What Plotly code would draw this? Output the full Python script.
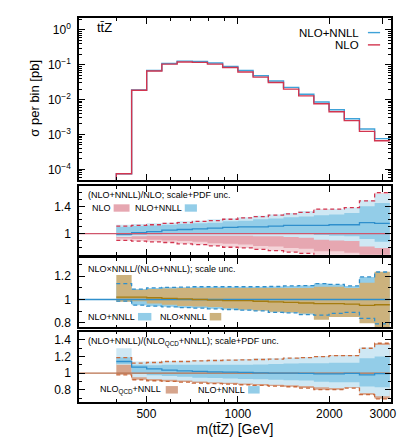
import plotly.graph_objects as go
from plotly.subplots import make_subplots

# bin edges of m(ttZ) in GeV (log-spaced bins), the first empty bin starts at 300
edges = [398, 447, 501, 562, 631, 708, 794, 891, 1000, 1122, 1259, 1413, 1585,
         1778, 1995, 2239, 2512, 2818, 3162]
x_start = 300
empty_bin = 1e-9  # no events below 400 GeV

# main panel: sigma per bin [pb]
sigma_nlo = [7.5e-5, 1.85e-2, 6.6e-2, 0.104, 0.120, 0.117, 0.104, 0.083, 0.062,
             0.044, 0.031, 0.020, 0.0128, 0.0076, 0.0045, 0.0025, 0.00123, 0.00066]
sigma_nnll = [7.4e-5, 1.88e-2, 6.8e-2, 0.109, 0.127, 0.125, 0.112, 0.090, 0.068,
              0.0485, 0.0343, 0.0224, 0.0143, 0.0085, 0.0051, 0.00283, 0.00143, 0.00076]

# panel 2: (NLO+NNLL)/NLO, scale+PDF
p2_nlo_c = [1.0] * 18
p2_nlo_out_lo = [0.90, 0.89, 0.88, 0.87, 0.85, 0.84, 0.82, 0.80, 0.79, 0.77, 0.75, 0.73, 0.71, 0.66, 0.66, 0.64, 0.55, 0.45]
p2_nlo_out_hi = [1.11, 1.12, 1.13, 1.15, 1.16, 1.18, 1.19, 1.21, 1.23, 1.25, 1.27, 1.29, 1.31, 1.36, 1.36, 1.38, 1.48, 1.60]
p2_nlo_in_lo = [0.93, 0.92, 0.91, 0.90, 0.89, 0.88, 0.86, 0.85, 0.84, 0.82, 0.81, 0.79, 0.78, 0.74, 0.74, 0.72, 0.65, 0.58]
p2_nlo_in_hi = [1.08, 1.09, 1.10, 1.11, 1.12, 1.13, 1.14, 1.16, 1.17, 1.19, 1.20, 1.22, 1.24, 1.27, 1.27, 1.29, 1.37, 1.45]
p2_nnll_c = [0.99, 1.015, 1.03, 1.05, 1.06, 1.07, 1.08, 1.09, 1.10, 1.10, 1.11, 1.12, 1.12, 1.12, 1.13, 1.13, 1.16, 1.15]
p2_nnll_out_lo = [0.95, 0.96, 0.97, 0.97, 0.97, 0.97, 0.97, 0.97, 0.97, 0.96, 0.96, 0.95, 0.94, 0.91, 0.90, 0.89, 0.81, 0.79]
p2_nnll_out_hi = [1.13, 1.14, 1.15, 1.16, 1.18, 1.19, 1.21, 1.22, 1.24, 1.26, 1.28, 1.30, 1.33, 1.35, 1.36, 1.38, 1.49, 1.58]
p2_nnll_in_lo = [0.97, 0.98, 0.99, 1.0, 1.0, 1.01, 1.01, 1.01, 1.01, 1.01, 1.01, 1.01, 1.0, 0.98, 0.97, 0.96, 0.92, 0.88]
p2_nnll_in_hi = [1.10, 1.11, 1.12, 1.13, 1.14, 1.15, 1.16, 1.18, 1.19, 1.21, 1.22, 1.24, 1.25, 1.27, 1.28, 1.30, 1.40, 1.45]

# panel 3: NLOxNNLL/(NLO+NNLL), scale
p3_nnll_c = [1.0] * 18
p3_nnll_lo = [0.986, 0.951, 0.943, 0.937, 0.93, 0.926, 0.92, 0.914, 0.908, 0.903, 0.89, 0.885, 0.87, 0.866, 0.88, 0.89, 0.837, 0.79]
p3_nnll_hi = [1.137, 1.09, 1.10, 1.105, 1.106, 1.11, 1.11, 1.11, 1.11, 1.11, 1.112, 1.117, 1.12, 1.137, 1.13, 1.117, 1.194, 1.237]
p3_prod_c = [1.02, 1.02, 1.015, 1.01, 1.005, 1.0, 0.995, 0.99, 0.99, 0.985, 0.98, 0.975, 0.97, 0.965, 0.965, 0.96, 0.95, 0.955]
p3_prod_lo = [0.98, 0.985, 0.965, 0.955, 0.945, 0.94, 0.935, 0.925, 0.915, 0.905, 0.895, 0.89, 0.88, 0.825, 0.85, 0.85, 0.795, 0.75]
p3_prod_hi = [1.21, 1.085, 1.09, 1.095, 1.10, 1.10, 1.10, 1.10, 1.10, 1.10, 1.10, 1.10, 1.10, 1.11, 1.11, 1.10, 1.145, 1.24]

# panel 4: (NLO+NNLL)/(NLO_QCD+NNLL), scale+PDF
p4_qcd_c = [1.0] * 18
p4_qcd_lo = [0.98, 0.92, 0.908, 0.90, 0.892, 0.88, 0.874, 0.868, 0.86, 0.852, 0.844, 0.836, 0.82, 0.80, 0.80, 0.82, 0.74, 0.69]
p4_qcd_hi = [1.188, 1.12, 1.128, 1.14, 1.14, 1.148, 1.152, 1.156, 1.16, 1.164, 1.17, 1.18, 1.188, 1.20, 1.212, 1.212, 1.30, 1.36]
p4_nnll_c = [1.14, 1.072, 1.052, 1.036, 1.028, 1.02, 1.016, 1.012, 1.008, 1.004, 1.0, 1.0, 0.996, 0.992, 0.992, 0.996, 0.98, 0.994]
p4_nnll_out_lo = [1.10, 0.95, 0.93, 0.92, 0.91, 0.90, 0.89, 0.885, 0.875, 0.87, 0.86, 0.855, 0.845, 0.83, 0.82, 0.83, 0.76, 0.72]
p4_nnll_out_hi = [1.30, 1.14, 1.14, 1.145, 1.15, 1.155, 1.16, 1.165, 1.17, 1.175, 1.18, 1.185, 1.19, 1.20, 1.21, 1.21, 1.31, 1.34]
p4_nnll_in_lo = [1.11, 0.99, 0.975, 0.965, 0.955, 0.945, 0.94, 0.935, 0.93, 0.925, 0.92, 0.915, 0.91, 0.895, 0.89, 0.89, 0.84, 0.83]
p4_nnll_in_hi = [1.19, 1.10, 1.095, 1.10, 1.10, 1.10, 1.10, 1.10, 1.10, 1.105, 1.11, 1.115, 1.12, 1.12, 1.125, 1.125, 1.18, 1.20]

BLUE = '#2f8fcc'
BLUE_D = '#93cde8'
BLUE_L = '#cfe8f4'
RED = '#d2354f'
PINK_D = '#e6a7b1'
PINK_L = '#f4d4d9'
TAN = '#ccb27d'
TAN_LINE = '#a47c10'
BROWN = '#d6a58d'
BROWN_LINE = '#c96a3c'
FONT = 'Arial, Liberation Sans, sans-serif'
DASH = '4px,3px'

fig = make_subplots(rows=4, cols=1, shared_xaxes=True)


def step(vals):
    return list(vals) + [vals[-1]]


def band(row, lo, hi, color):
    fig.add_trace(go.Scatter(x=edges, y=step(lo), mode='lines', line=dict(width=0, shape='hv'),
                             showlegend=False, hoverinfo='skip'), row=row, col=1)
    fig.add_trace(go.Scatter(x=edges, y=step(hi), mode='lines', line=dict(width=0, shape='hv'),
                             fill='tonexty', fillcolor=color, showlegend=False, hoverinfo='skip'),
                  row=row, col=1)


def line(row, vals, color, dash='solid', width=1.3, from_start=False, start_val=1.0):
    xs = [x_start] + edges if from_start else edges
    ys = ([start_val] if from_start else []) + step(vals)
    fig.add_trace(go.Scatter(x=xs, y=ys, mode='lines',
                             line=dict(color=color, width=width, dash=dash, shape='hv'),
                             showlegend=False, hoverinfo='skip'), row=row, col=1)


# main panel
line(1, sigma_nnll, '#3fa2d8', width=1.4, from_start=True, start_val=empty_bin)
line(1, sigma_nlo, RED, width=1.4, from_start=True, start_val=empty_bin)

# panel 2
band(2, p2_nlo_out_lo, p2_nlo_out_hi, PINK_L)
band(2, p2_nlo_in_lo, p2_nlo_in_hi, PINK_D)
band(2, p2_nnll_out_lo, p2_nnll_out_hi, BLUE_L)
band(2, p2_nnll_in_lo, p2_nnll_in_hi, BLUE_D)
line(2, p2_nnll_c, BLUE)
line(2, p2_nlo_c, '#d0566b', from_start=True)
line(2, p2_nlo_out_lo, RED, dash=DASH)
line(2, p2_nlo_out_hi, RED, dash=DASH)

# panel 3
band(3, p3_nnll_lo, p3_nnll_hi, BLUE_D)
band(3, p3_prod_lo, p3_prod_hi, TAN)
line(3, p3_nnll_c, BLUE, from_start=True)
line(3, p3_prod_c, TAN_LINE)
line(3, p3_nnll_lo, BLUE, dash=DASH)
line(3, p3_nnll_hi, BLUE, dash=DASH)

# panel 4
band(4, p4_qcd_lo, p4_qcd_hi, BROWN)
band(4, p4_nnll_out_lo, p4_nnll_out_hi, BLUE_L)
band(4, p4_nnll_in_lo, p4_nnll_in_hi, BLUE_D)
line(4, p4_qcd_c, '#b9714c', from_start=True)
line(4, p4_nnll_c, BLUE)
line(4, p4_qcd_lo, BROWN_LINE, dash=DASH)
line(4, p4_qcd_hi, BROWN_LINE, dash=DASH)

# axes
xaxis = dict(type='log', range=[2.4771, 3.5038], showline=True, linewidth=1.5, linecolor='black',
             mirror='allticks', ticks='inside', ticklen=6, tickwidth=1, tickcolor='black',
             tickvals=[500, 1000, 2000, 3000], ticktext=['500', '1000', '2000', '3000'],
             minor=dict(ticks='inside', ticklen=3, tickcolor='black', tickvals=[400, 600, 700, 800, 900]),
             showgrid=False, zeroline=False, tickfont=dict(size=12, color='black'))
domains = [[0.5777, 1.0], [0.3834, 0.5630], [0.1943, 0.3749], [0.0, 0.1832]]
for i in range(4):
    fig.update_xaxes(xaxis, row=i + 1, col=1, showticklabels=(i == 3))
    fig.update_yaxes(domain=domains[i], row=i + 1, col=1)

yax = dict(showline=True, linewidth=1.5, linecolor='black', mirror='allticks', ticks='inside',
           ticklen=6, tickcolor='black', showgrid=False, zeroline=False,
           tickfont=dict(size=12, color='black'), ticklabelstandoff=4)
main_minor = [m * 10 ** e for e in range(-5, 1) for m in range(2, 10)]
fig.update_yaxes(yax, row=1, col=1, type='log', range=[-4.31, 0.34],
                 tickvals=[1e-4, 1e-3, 1e-2, 1e-1, 1],
                 ticktext=['10<sup>−4</sup>', '10<sup>−3</sup>', '10<sup>−2</sup>', '10<sup>−1</sup>', '10<sup>0</sup>'],
                 minor=dict(ticks='inside', ticklen=3, tickcolor='black', tickvals=main_minor))
fig.update_yaxes(yax, row=2, col=1, range=[0.69, 1.70], tickvals=[1, 1.4], ticktext=['1', '1.4'],
                 minor=dict(ticks='inside', ticklen=3, tickcolor='black', dtick=0.1, tick0=0))
fig.update_yaxes(yax, row=3, col=1, range=[0.76, 1.357], tickvals=[0.8, 1, 1.2], ticktext=['0.8', '1', '1.2'],
                 minor=dict(ticks='inside', ticklen=3, tickcolor='black', dtick=0.1, tick0=0))
fig.update_yaxes(yax, row=4, col=1, range=[0.652, 1.50], tickvals=[0.8, 1, 1.2, 1.4],
                 ticktext=['0.8', '1', '1.2', '1.4'],
                 minor=dict(ticks='inside', ticklen=3, tickcolor='black', dtick=0.1, tick0=0))

fig.update_xaxes(row=4, col=1, title=dict(text='m(tt̄Z) [GeV]', font=dict(size=14, color='black'), standoff=3))

# labels and hand-made legends (paper coordinates)
ann = []
shapes = []


def text(x, y, s, size=9, xanchor='left'):
    ann.append(dict(x=x, y=y, xref='paper', yref='paper', text=s, showarrow=False,
                    xanchor=xanchor, yanchor='middle', font=dict(size=size, color='black')))


def box(x0, x1, y0, y1, color):
    shapes.append(dict(type='rect', xref='paper', yref='paper', x0=x0, x1=x1, y0=y0, y1=y1,
                       fillcolor=color, line=dict(width=0)))


def sample(x0, x1, y, color):
    shapes.append(dict(type='line', xref='paper', yref='paper', x0=x0, x1=x1, y0=y, y1=y,
                       line=dict(color=color, width=1.4)))


text(0.051, 0.974, 'tt̄Z', size=13)
text(0.905, 0.962, 'NLO+NNLL', size=11.5, xanchor='right')
text(0.905, 0.930, 'NLO', size=11.5, xanchor='right')
sample(0.926, 0.965, 0.962, '#3fa2d8')
sample(0.926, 0.965, 0.930, RED)

text(0.023, 0.539, '(NLO+NNLL)/NLO; scale+PDF unc.')
text(0.034, 0.504, 'NLO')
box(0.111, 0.162, 0.4956, 0.5148, PINK_D)
text(0.173, 0.504, 'NLO+NNLL')
box(0.339, 0.378, 0.4956, 0.5148, BLUE_D)

text(0.023, 0.347, 'NLO×NNLL/(NLO+NNLL); scale unc.')
text(0.023, 0.222, 'NLO+NNLL')
box(0.189, 0.232, 0.2124, 0.2319, BLUE_D)
text(0.253, 0.222, 'NLO×NNLL')
box(0.419, 0.456, 0.2124, 0.2319, TAN)

text(0.023, 0.155, '(NLO+NNLL)/(NLO<sub>QCD</sub>+NNLL); scale+PDF unc.')
text(0.061, 0.032, 'NLO<sub>QCD</sub>+NNLL')
box(0.278, 0.317, 0.022, 0.0415, BROWN)
text(0.376, 0.032, 'NLO+NNLL')
box(0.542, 0.579, 0.022, 0.0415, BLUE_D)

ann.append(dict(x=-0.141, y=0.79, xref='paper', yref='paper', text='σ per bin [pb]', showarrow=False,
                textangle=-90, xanchor='center', yanchor='middle', font=dict(size=13, color='black')))

fig.update_layout(
    width=407, height=444,
    margin=dict(l=71, r=24, t=8, b=50),
    paper_bgcolor='white', plot_bgcolor='white',
    font=dict(family=FONT, color='black'),
    showlegend=False,
    annotations=ann, shapes=shapes,
)

fig.write_html("out.html")
